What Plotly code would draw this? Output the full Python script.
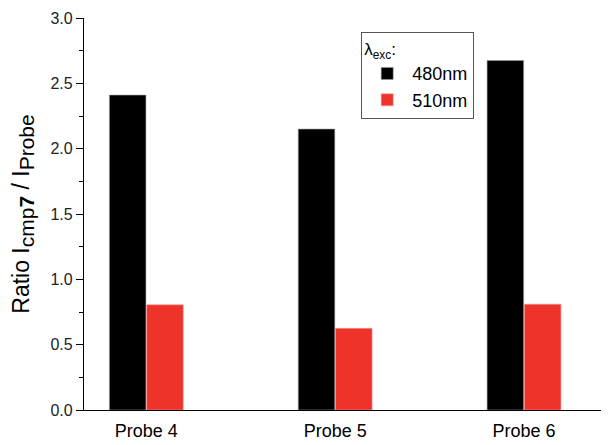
import plotly.graph_objects as go

categories = ["Probe 4", "Probe 5", "Probe 6"]
series_names = ["480nm", "510nm"]
values_480 = [2.41, 2.15, 2.675]
values_510 = [0.805, 0.625, 0.81]
y_ticks = [0.0, 0.5, 1.0, 1.5, 2.0, 2.5, 3.0]

FONT = "Liberation Sans, Arial, sans-serif"

fig = go.Figure()
fig.add_trace(go.Bar(
    x=categories, y=values_480, name=series_names[0],
    marker=dict(color="#000000", line=dict(color="#9a9a9a", width=0.6)),
))
fig.add_trace(go.Bar(
    x=categories, y=values_510, name=series_names[1],
    marker=dict(color="#EE332B", line=dict(color="#f59a94", width=0.6)),
))

# page body has an 8px margin, so the figure is sized 8px smaller
fig.update_layout(
    width=601, height=437,
    margin=dict(l=76, r=0, t=10, b=35, autoexpand=False),
    paper_bgcolor="white", plot_bgcolor="white",
    barmode="group", bargap=0.605, bargroupgap=0.02,
    font=dict(family=FONT, color="#000000"),
    showlegend=True,
    legend=dict(
        x=0.528, y=0.964, xanchor="left", yanchor="top",
        bordercolor="#555555", borderwidth=1, bgcolor="white",
        font=dict(size=18, family=FONT),
        title=dict(text="λ<sub>exc</sub>:", font=dict(size=17, family=FONT)),
        tracegroupgap=0, itemwidth=40,
    ),
)

fig.update_xaxes(
    type="category", range=[-0.33, 2.45], automargin=False,
    showline=True, linecolor="#000000", linewidth=1.2,
    ticks="", showgrid=False, zeroline=False, ticklabelstandoff=4,
    tickfont=dict(size=18, family=FONT),
)
fig.update_yaxes(
    range=[0, 3.0], tickvals=y_ticks, ticktext=[f"{v:.1f}" for v in y_ticks],
    automargin=False,
    showline=True, linecolor="#000000", linewidth=1.2,
    ticks="outside", ticklen=7, tickwidth=1.2, tickcolor="#000000",
    minor=dict(dtick=0.25, tick0=0, ticks="outside", ticklen=4, tickwidth=1.2, tickcolor="#000000"),
    showgrid=False, zeroline=False,
    tickfont=dict(size=16, family=FONT, color="#222222"),
    title=dict(
        text="Ratio I<sub><span style='font-size:21px'>cmp<b>7</b></span></sub> / I<sub><span style='font-size:21px'>Probe</span></sub>",
        font=dict(size=23, family=FONT), standoff=14),
)

fig.write_html("out.html")
